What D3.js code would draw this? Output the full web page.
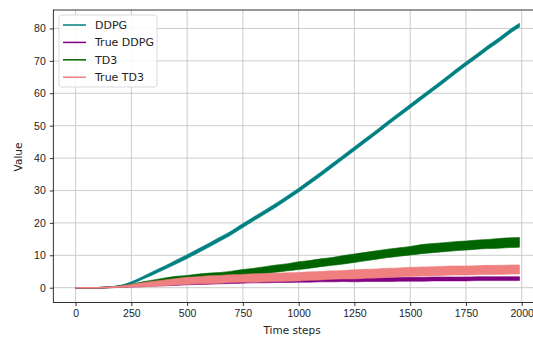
<!DOCTYPE html>
<html>
<head>
<meta charset="utf-8">
<script src="https://cdn.jsdelivr.net/npm/d3@7"></script>
<style>
  body { margin: 0; background: #fff; }
  svg { display: block; font-family: 'DejaVu Sans', sans-serif; }
  .grid line { stroke: #c6c6c6; stroke-width: 0.9; }
  .axis path { display: none; }
  .axis line { stroke: #000; stroke-width: 0.8; }
  .axis text { fill: #222; font-size: 10.5px; }
</style>
</head>
<body>
<div id="chart"></div>
<script>
const steps = [0, 50, 100, 150, 200, 250, 300, 350, 400, 450, 500, 550, 600, 650, 700, 750, 800, 850, 900, 950,
  1000, 1050, 1100, 1150, 1200, 1250, 1300, 1350, 1400, 1450, 1500, 1550, 1600, 1650, 1700, 1750, 1800, 1850, 1900, 1950, 1990];

const ddpg = [0, 0, 0, 0.1, 0.5, 1.5, 3.0, 4.6, 6.2, 7.9, 9.6, 11.4, 13.2, 15.1, 17.0, 19.2, 21.3, 23.4, 25.5, 27.8,
  30.1, 32.6, 35.1, 37.7, 40.3, 42.9, 45.5, 48.1, 50.8, 53.4, 56.0, 58.6, 61.2, 63.8, 66.5, 69.1, 71.6, 74.2, 76.6, 79.2, 81.0];
const trueDdpg = [0, 0, 0, 0.1, 0.3, 0.5, 0.7, 0.9, 1.1, 1.2, 1.4, 1.5, 1.6, 1.7, 1.8, 1.9, 2.0, 2.0, 2.1, 2.1,
  2.2, 2.2, 2.3, 2.3, 2.4, 2.4, 2.5, 2.5, 2.5, 2.6, 2.6, 2.6, 2.7, 2.7, 2.7, 2.7, 2.8, 2.8, 2.8, 2.8, 2.8];
const td3 = [0, 0, 0, 0.1, 0.4, 0.8, 1.3, 1.8, 2.3, 2.7, 3.0, 3.3, 3.6, 3.8, 4.1, 4.6, 5.0, 5.4, 5.9, 6.3,
  6.8, 7.2, 7.7, 8.1, 8.6, 9.1, 9.6, 10.1, 10.6, 11.0, 11.4, 11.9, 12.2, 12.5, 12.8, 13.0, 13.3, 13.5, 13.7, 13.9, 14.0];
const trueTd3 = [0, 0, 0, 0.1, 0.3, 0.6, 0.9, 1.2, 1.5, 1.8, 2.1, 2.3, 2.5, 2.6, 2.8, 2.9, 3.0, 3.1, 3.2, 3.3,
  3.4, 3.6, 3.7, 3.9, 4.0, 4.1, 4.3, 4.4, 4.6, 4.7, 4.9, 5.0, 5.1, 5.2, 5.3, 5.3, 5.4, 5.5, 5.5, 5.6, 5.6];

// half-width of the noise band around each mean
const ddpgSpread = [0, 0, 0, 0.1, 0.2, 0.3, 0.4, 0.5, 0.5, 0.6, 0.6, 0.6, 0.6, 0.6, 0.6, 0.6, 0.6, 0.6, 0.6, 0.6,
  0.6, 0.6, 0.6, 0.6, 0.6, 0.6, 0.6, 0.6, 0.6, 0.6, 0.6, 0.6, 0.6, 0.6, 0.6, 0.6, 0.6, 0.6, 0.6, 0.6, 0.6];
const trueDdpgSpread = [0, 0, 0, 0.1, 0.2, 0.3, 0.4, 0.4, 0.5, 0.5, 0.5, 0.5, 0.5, 0.5, 0.5, 0.5, 0.5, 0.5, 0.5, 0.5,
  0.5, 0.5, 0.5, 0.5, 0.5, 0.6, 0.6, 0.6, 0.6, 0.6, 0.6, 0.6, 0.6, 0.6, 0.6, 0.6, 0.6, 0.6, 0.6, 0.6, 0.6];
const td3Spread = [0, 0, 0, 0.1, 0.2, 0.3, 0.5, 0.6, 0.7, 0.8, 0.8, 0.9, 0.9, 0.9, 1.0, 1.0, 1.0, 1.1, 1.1, 1.1,
  1.2, 1.2, 1.2, 1.2, 1.3, 1.3, 1.3, 1.3, 1.3, 1.3, 1.3, 1.4, 1.4, 1.4, 1.4, 1.4, 1.4, 1.4, 1.5, 1.5, 1.5];
const trueTd3Spread = [0, 0, 0, 0.1, 0.2, 0.4, 0.6, 0.8, 0.9, 1.0, 1.1, 1.1, 1.2, 1.2, 1.2, 1.2, 1.3, 1.3, 1.3, 1.3,
  1.3, 1.3, 1.3, 1.3, 1.3, 1.4, 1.4, 1.4, 1.4, 1.4, 1.4, 1.4, 1.4, 1.4, 1.4, 1.4, 1.4, 1.4, 1.4, 1.4, 1.4];

const seriesNames = ['DDPG', 'True DDPG', 'TD3', 'True TD3'];
const seriesColors = ['#008080', '#800080', '#006400', '#f08080'];
const xTicks = [0, 250, 500, 750, 1000, 1250, 1500, 1750, 2000];
const yTicks = [0, 10, 20, 30, 40, 50, 60, 70, 80];

const width = 533, height = 337;
const plot = { left: 53.3, top: 10, right: 544, bottom: 302.5 };

const svg = d3.select('#chart')
  .append('svg')
    .attr('width', width)
    .attr('height', height);

const x = d3.scaleLinear()
  .domain([-100, 2100])
  .range([plot.left, plot.right]);

const y = d3.scaleLinear()
  .domain([-4.57, 85.7])
  .range([plot.bottom, plot.top]);

// grid
const grid = svg.append('g').attr('class', 'grid');
grid.selectAll('line.gx')
  .data(xTicks)
  .enter()
  .append('line')
    .attr('x1', d => x(d)).attr('x2', d => x(d))
    .attr('y1', plot.top).attr('y2', plot.bottom);
grid.selectAll('line.gy')
  .data(yTicks)
  .enter()
  .append('line')
    .attr('x1', plot.left).attr('x2', plot.right)
    .attr('y1', d => y(d)).attr('y2', d => y(d));

// series
const allSeries = [
  { mean: ddpg, spread: ddpgSpread },
  { mean: trueDdpg, spread: trueDdpgSpread },
  { mean: td3, spread: td3Spread },
  { mean: trueTd3, spread: trueTd3Spread }
];

const area = d3.area()
  .x(d => x(d.t))
  .y0(d => y(d.v - d.s))
  .y1(d => y(d.v + d.s))
  .curve(d3.curveMonotoneX);

const line = d3.line()
  .x(d => x(d.t))
  .y(d => y(d.v))
  .curve(d3.curveMonotoneX);

const dataGroup = svg.append('g');
allSeries.forEach((s, i) => {
  const pts = steps.map((t, k) => ({ t: t, v: s.mean[k], s: s.spread[k] }));
  dataGroup.append('path')
    .datum(pts)
    .attr('fill', seriesColors[i])
    .attr('stroke', seriesColors[i])
    .attr('stroke-width', 0.6)
    .attr('d', area);
  dataGroup.append('path')
    .datum(pts)
    .attr('fill', 'none')
    .attr('stroke', seriesColors[i])
    .attr('stroke-width', 1.5)
    .attr('d', line);
});

// axes
svg.append('g')
  .attr('class', 'axis')
  .attr('transform', 'translate(0,' + plot.bottom + ')')
  .call(d3.axisBottom(x).tickValues(xTicks).tickSize(3.5).tickPadding(4).tickFormat(d3.format('d')));

svg.append('g')
  .attr('class', 'axis')
  .attr('transform', 'translate(' + plot.left + ',0)')
  .call(d3.axisLeft(y).tickValues(yTicks).tickSize(3.5).tickPadding(4));

// spines
svg.append('rect')
  .attr('x', plot.left)
  .attr('y', plot.top)
  .attr('width', plot.right - plot.left)
  .attr('height', plot.bottom - plot.top)
  .attr('fill', 'none')
  .attr('stroke', '#000')
  .attr('stroke-width', 0.8);

// axis labels
svg.append('text')
  .attr('x', 292)
  .attr('y', 334)
  .attr('text-anchor', 'middle')
  .attr('font-size', 10.5)
  .attr('fill', '#222')
  .text('Time steps');

svg.append('text')
  .attr('transform', 'translate(22,' + 157 + ') rotate(-90)')
  .attr('text-anchor', 'middle')
  .attr('font-size', 10.5)
  .attr('fill', '#222')
  .text('Value');

// legend
const legend = svg.append('g').attr('transform', 'translate(59,15)');
legend.append('rect')
  .attr('width', 98)
  .attr('height', 72)
  .attr('rx', 2.5)
  .attr('fill', '#fff')
  .attr('fill-opacity', 0.85)
  .attr('stroke', '#d0d0d0')
  .attr('stroke-width', 0.8);

seriesNames.forEach((name, i) => {
  const row = legend.append('g').attr('transform', 'translate(0,' + (10 + i * 17.4) + ')');
  row.append('line')
    .attr('x1', 4).attr('x2', 27)
    .attr('stroke', seriesColors[i])
    .attr('stroke-width', 1.5);
  row.append('text')
    .attr('x', 36)
    .attr('y', 4)
    .attr('font-size', 11)
    .attr('fill', '#222')
    .text(name);
});
</script>
</body>
</html>
